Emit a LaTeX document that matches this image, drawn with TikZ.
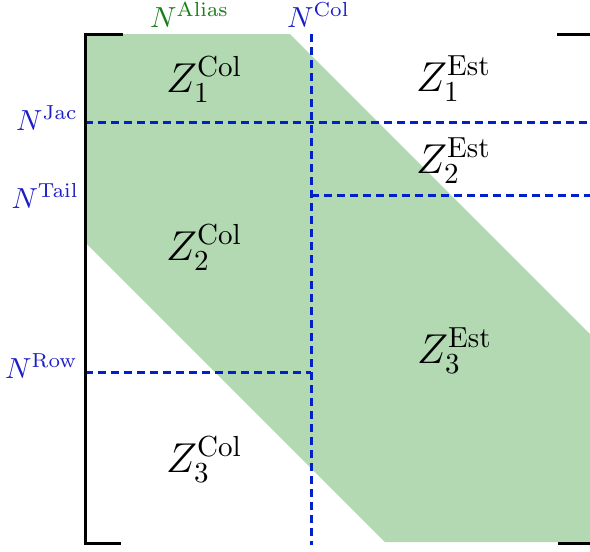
\documentclass[tikz,border=0pt]{standalone}
\definecolor{lgreen}{RGB}{179,217,179}
\definecolor{dgreen}{RGB}{20,128,20}
\definecolor{lblue}{RGB}{0,32,200}
\definecolor{tblue}{RGB}{28,28,200}
\newcommand{\zt}[1]{\scalebox{2.9}{\Large$#1$}}
\newcommand{\nt}[1]{\scalebox{2.9}{$#1$}}
\begin{document}
\begin{tikzpicture}[x=1pt,y=-1pt,
  dline/.style={lblue, line width=3pt, dash pattern=on 8pt off 5pt},
  brk/.style={black, line width=3pt},
  zlab/.style={inner sep=0pt, anchor=base west},
  nlab/.style={inner sep=0pt, text=tblue}]
\useasboundingbox (0,0) rectangle (590,552);
% green band
\fill[lgreen] (85,34) -- (290,34) -- (590,334) -- (590,542) -- (385,542) -- (85,242) -- cycle;
% coordinates
\coordinate (colT) at (311,34);
\coordinate (colB) at (311,545);
\coordinate (jacL) at (85,122);
\coordinate (jacR) at (590,122);
\coordinate (tailL) at (311,195);
\coordinate (tailR) at (590,195);
\coordinate (rowL) at (85,372);
\coordinate (rowR) at (311,372);
\draw[dline] (colT) -- (colB);
\draw[dline] (jacL) -- (jacR);
\draw[dline] (tailL) -- (tailR);
\draw[dline] (rowL) -- (rowR);
% brackets
\coordinate (lt) at (123,34);
\coordinate (ltc) at (85,34);
\coordinate (lbc) at (85,543);
\coordinate (lb) at (121,543);
\coordinate (rt) at (557,34);
\coordinate (rtc) at (590,34);
\coordinate (rb) at (558,543);
\coordinate (rbc) at (590,543);
\draw[brk] (lt) -- (ltc) -- (lbc) -- (lb);
\draw[brk] (rt) -- (rtc);
\draw[brk] (rb) -- (rbc);
% labels
\node[nlab, anchor=base west, text=dgreen] (alias) at (150,27) {\nt{N^{\mathrm{Alias}}}};
\node[nlab, anchor=base west] (ncol) at (287,27) {\nt{N^{\mathrm{Col}}}};
\node[nlab, anchor=base east] (jac) at (78,130) {\nt{N^{\mathrm{Jac}}}};
\node[nlab, anchor=base east] (tail) at (79,208) {\nt{N^{\mathrm{Tail}}}};
\node[nlab, anchor=base east] (row) at (78,378) {\nt{N^{\mathrm{Row}}}};
\node[zlab] (z1c) at (166,92) {\zt{Z_1^{\mathrm{Col}}}};
\node[zlab] (z2c) at (166,260) {\zt{Z_2^{\mathrm{Col}}}};
\node[zlab] (z3c) at (166,472) {\zt{Z_3^{\mathrm{Col}}}};
\node[zlab] (z1e) at (416,91) {\zt{Z_1^{\mathrm{Est}}}};
\node[zlab] (z2e) at (416,173) {\zt{Z_2^{\mathrm{Est}}}};
\node[zlab] (z3e) at (417,363) {\zt{Z_3^{\mathrm{Est}}}};
\end{tikzpicture}
\end{document}
